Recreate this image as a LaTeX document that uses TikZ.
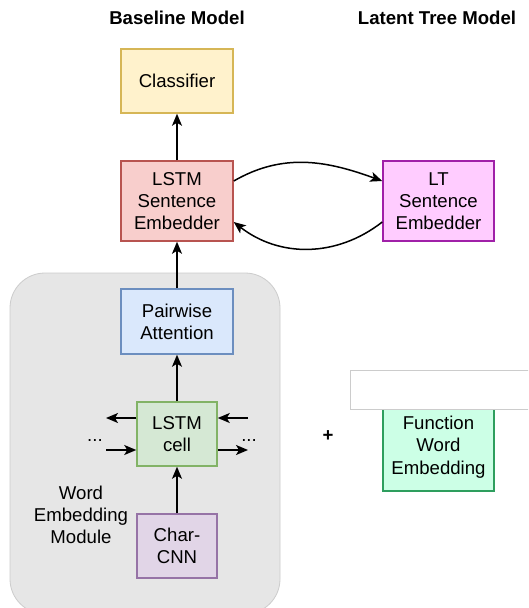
\documentclass[tikz,border=0pt]{standalone}
\usepackage{fontspec}
\setmainfont{Liberation Sans}
\usepackage{tikz}
\usetikzlibrary{arrows.meta,calc}
\definecolor{clsfill}{HTML}{FFF2CC}
\definecolor{clsline}{HTML}{D6B656}
\definecolor{embfill}{HTML}{F8CECC}
\definecolor{embline}{HTML}{B85450}
\definecolor{ltfill}{HTML}{FFCCFF}
\definecolor{ltline}{HTML}{A020A8}
\definecolor{attfill}{HTML}{DAE8FC}
\definecolor{attline}{HTML}{6C8EBF}
\definecolor{cellfill}{HTML}{D5E8D4}
\definecolor{cellline}{HTML}{82B366}
\definecolor{cnnfill}{HTML}{E1D5E7}
\definecolor{cnnline}{HTML}{9673A6}
\definecolor{fwfill}{HTML}{CCFFE6}
\definecolor{fwline}{HTML}{2E9E5E}
\definecolor{modfill}{HTML}{E6E6E6}
\definecolor{modline}{HTML}{CCCCCC}

\tikzset{
    blk/.style={draw, line width=1.5pt, align=center, inner sep=0pt,
        font=\fontsize{18.6}{22.2}\selectfont},
    lbl/.style={align=center, inner sep=0pt, font=\fontsize{18.6}{22.2}\selectfont},
    arr/.style={-{Stealth[length=12pt,width=10pt,inset=3pt]}, line width=1.5pt}
}

\begin{document}
\begin{tikzpicture}[x=1pt, y=-1pt]
    \clip (0,0) rectangle (528,608);
    \fill [white] (0,0) rectangle (528,608);

    % Titles
    \node [lbl, font=\fontsize{18.6}{22.2}\selectfont\bfseries] (tbase) at (177,18) {Baseline Model};
    \node [lbl, font=\fontsize{18.6}{22.2}\selectfont\bfseries] (ttree) at (437,18) {Latent Tree Model};

    % Word embedding module background
    \draw [fill=modfill, draw=modline, line width=0.8pt, rounded corners=35pt] (10,273) rectangle (280,614);

    % Blocks
    \node [blk, fill=clsfill, draw=clsline, minimum width=112pt, minimum height=64pt] (cls) at (177,81) {Classifier};
    \node [blk, fill=embfill, draw=embline, minimum width=112pt, minimum height=80pt] (emb) at (177,201) {LSTM\\Sentence\\Embedder};
    \node [blk, fill=ltfill, draw=ltline, minimum width=111pt, minimum height=80pt] (lt) at (438.5,201) {LT\\Sentence\\Embedder};
    \node [blk, fill=attfill, draw=attline, minimum width=112pt, minimum height=65pt] (att) at (177,321.5) {Pairwise\\Attention};
    \node [blk, fill=cellfill, draw=cellline, minimum width=80pt, minimum height=64pt] (cell) at (177,434) {LSTM\\cell};
    \node [blk, fill=cnnfill, draw=cnnline, minimum width=80pt, minimum height=64pt] (cnn) at (177,546) {Char-\\CNN};
    \node [blk, fill=fwfill, draw=fwline, minimum width=111pt, minimum height=88pt] (fw) at (438.5,447) {Function\\Word\\Embedding};

    % Blank box over the top of the function word block
    \draw [fill=white, draw=modline, line width=0.8pt] (350,370) rectangle (540,409);

    % Labels
    \node [lbl] (wem) at (81,515) {Word\\Embedding\\Module};
    \node [lbl, anchor=base] (dotl) at (95,441) {...};
    \node [lbl, anchor=base] (dotr) at (249,441) {...};
    \node [lbl] (plus) at (328,436) {\textbf{+}};

    % Main flow
    \draw [arr] (emb.north) -- (cls.south);
    \draw [arr] (att.north) -- (emb.south);
    \draw [arr] (cell.north) -- (att.south);
    \draw [arr] (cnn.north) -- (cell.south);

    % Embedder exchange
    \draw [arr] ([yshift=20pt]emb.east) to[out=30, in=160] ([yshift=20pt]lt.west);
    \draw [arr] ([yshift=-21pt]lt.west) to[out=218, in=-38] ([yshift=-21pt]emb.east);

    % Recurrent connections of the cell
    \coordinate (outl) at (106,418);
    \coordinate (inl) at (106,450);
    \coordinate (inr) at (248,418);
    \coordinate (outr) at (248,450);
    \draw [arr] ([yshift=16pt]cell.west) -- (outl);
    \draw [arr] (inl) -- ([yshift=-16pt]cell.west);
    \draw [arr] (inr) -- ([yshift=16pt]cell.east);
    \draw [arr] ([yshift=-16pt]cell.east) -- (outr);
\end{tikzpicture}
\end{document}
